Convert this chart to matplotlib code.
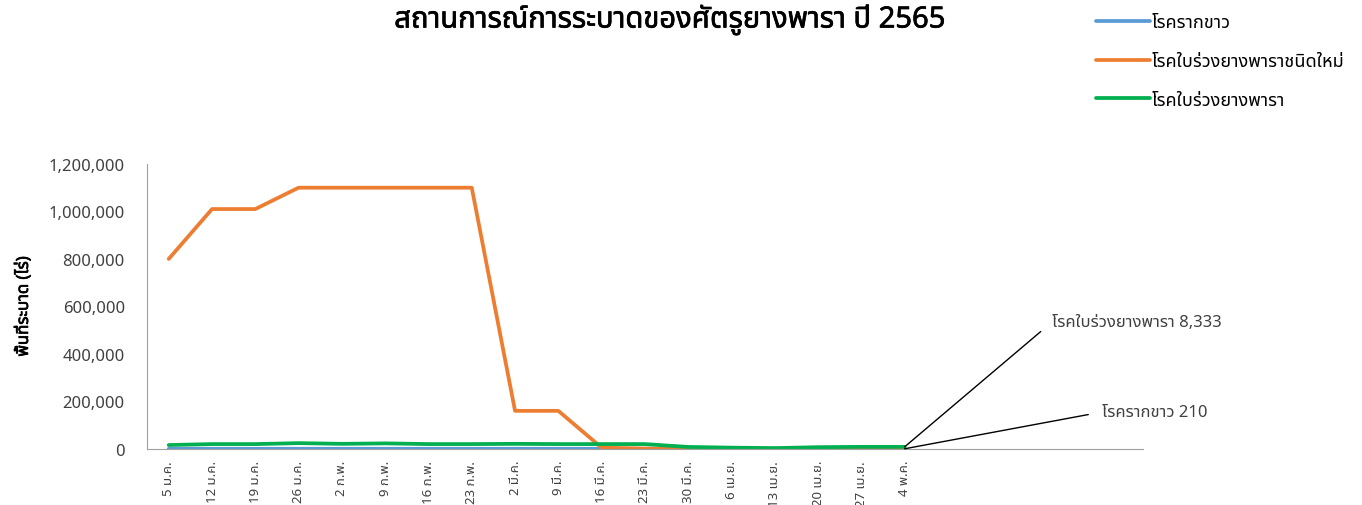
import matplotlib
matplotlib.use("Agg")
import matplotlib.pyplot as plt
import matplotlib.patheffects as pe
from matplotlib import font_manager
from matplotlib.ft2font import FT2Font
from matplotlib.ticker import FuncFormatter

# หาฟอนต์ที่มีอักษรไทย
thai_font = None
candidates = []
for fe in font_manager.fontManager.ttflist:
    try:
        cmap = FT2Font(fe.fname).get_charmap()
    except Exception:
        continue
    if 0x0E2A in cmap and 0x0E42 in cmap:
        candidates.append(fe.name)
for pref in ["Tahoma", "Leelawadee UI", "Leelawadee", "Noto Sans Thai", "Noto Sans Thai UI",
             "Sarabun", "TH Sarabun New", "Loma", "Garuda", "Norasi", "Waree", "Kinnari"]:
    if pref in candidates:
        thai_font = pref
        break
if thai_font is None and candidates:
    thai_font = candidates[0]
fams = ([thai_font] if thai_font else []) + ["DejaVu Sans"]
plt.rcParams["font.family"] = fams

# ข้อมูล
weeks = ["5 ม.ค.", "12 ม.ค.", "19 ม.ค.", "26 ม.ค.", "2 ก.พ.", "9 ก.พ.", "16 ก.พ.", "23 ก.พ.",
         "2 มี.ค.", "9 มี.ค.", "16 มี.ค.", "23 มี.ค.", "30 มี.ค.", "6 เม.ย.", "13 เม.ย.",
         "20 เม.ย.", "27 เม.ย.", "4 พ.ค.", "", "", "", "", ""]
root_white = [200, 200, 200, 200, 200, 200, 200, 200, 200, 200,
              210, 210, 210, 210, 210, 210, 210, 210]
leaf_new = [800000, 1010000, 1010000, 1100000, 1100000, 1100000, 1100000, 1100000,
            160000, 160000, 5000, 1000, 800, 500, 500, 500, 500, 500]
leaf_fall = [16000, 20000, 20000, 24000, 21000, 23000, 20000, 20000, 21000, 20000,
             20000, 20000, 8000, 5000, 3000, 7000, 8300, 8333]
series_names = ["โรครากขาว", "โรคใบร่วงยางพาราชนิดใหม่", "โรคใบร่วงยางพารา"]

fig = plt.figure(figsize=(13.62, 5.06), dpi=100)
ax = fig.add_axes([0.108, 0.111, 0.731, 0.563])

x = list(range(len(root_white)))
ax.plot(x, root_white, color="#5B9BD5", lw=2.7, label=series_names[0], solid_capstyle="round")
ax.plot(x, leaf_new, color="#ED7D31", lw=2.7, label=series_names[1], solid_capstyle="round")
ax.plot(x, leaf_fall, color="#00B050", lw=2.7, label=series_names[2], solid_capstyle="round")

ax.set_xlim(-0.5, len(weeks) - 0.5)
ax.set_ylim(0, 1200000)
ax.set_yticks(range(0, 1200001, 200000))
ax.yaxis.set_major_formatter(FuncFormatter(lambda v, p: f"{int(v):,}"))
ax.set_xticks(range(len(weeks)))
ax.set_xticklabels(weeks, rotation=90, fontsize=9.5, color="#404040")
ax.tick_params(axis="y", length=0, labelsize=12, labelcolor="#404040", pad=16)
ax.tick_params(axis="x", length=0, pad=8)
for s in ["top", "right"]:
    ax.spines[s].set_visible(False)
for s in ["left", "bottom"]:
    ax.spines[s].set_color("#A0A0A0")
ylab = ax.set_ylabel("พื้นที่ระบาด (ไร่)", fontsize=12, fontweight="bold", labelpad=12)
ylab.set_path_effects([pe.withStroke(linewidth=0.5, foreground="black")])

fig.text(0.492, 0.958, "สถานการณ์การระบาดของศัตรูยางพารา ปี 2565", ha="center", va="center",
         fontsize=21, fontweight="bold",
         path_effects=[pe.withStroke(linewidth=0.5, foreground="black")])

fig.legend(loc="upper left", bbox_to_anchor=(0.793, 1.004), frameon=False, fontsize=13,
           handlelength=3.0, labelspacing=1.15, handletextpad=0.1)

ax.annotate(f"{series_names[2]} 8,333", xy=(17, 8333), xytext=(1052, 183),
            textcoords="figure pixels", fontsize=12, va="center", ha="left", color="#404040",
            arrowprops=dict(arrowstyle="-", color="black", lw=1, relpos=(0, 0.5),
                            shrinkA=8, shrinkB=0))
ax.annotate(f"{series_names[0]} 210", xy=(17, 210), xytext=(1102, 93),
            textcoords="figure pixels", fontsize=12, va="center", ha="left", color="#404040",
            arrowprops=dict(arrowstyle="-", color="black", lw=1, relpos=(0, 0.5),
                            shrinkA=8, shrinkB=0))

fig.savefig("out.png", dpi=100)
